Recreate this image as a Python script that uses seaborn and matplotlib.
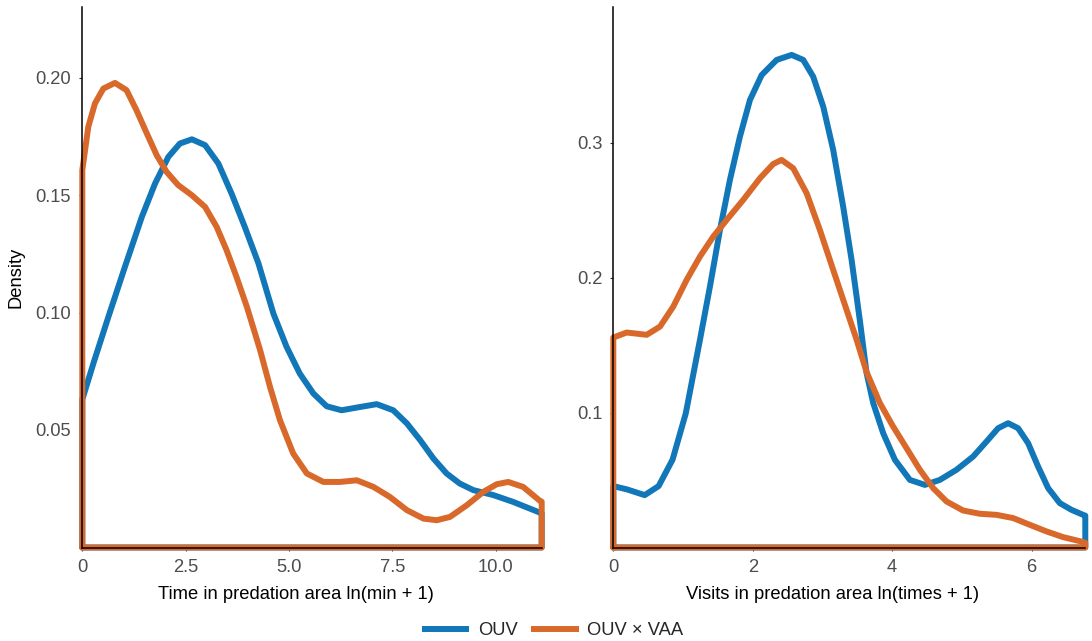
import matplotlib
matplotlib.use("Agg")
import matplotlib.pyplot as plt
import seaborn as sns
import pandas as pd

sns.set_theme(style="white")
plt.rcParams['font.family'] = ['Liberation Sans', 'DejaVu Sans']

groups = ["OUV", "OUV × VAA"]
colors = {"OUV": "#1177B8", "OUV × VAA": "#D8692A"}

# ---- Panel 1: time in predation area (outline of density polygon) ----
time_ouv_x = [0, 0, 0.28, 0.63, 1.03, 1.44, 1.76, 2.08, 2.36, 2.65, 2.97, 3.29, 3.61,
              3.93, 4.26, 4.62, 4.94, 5.26, 5.59, 5.91, 6.27, 6.72, 7.12, 7.52, 7.85,
              8.17, 8.49, 8.81, 9.13, 9.46, 9.94, 10.42, 11.03, 11.11, 11.11, 0]
time_ouv_y = [0, 0.063, 0.079, 0.0981, 0.1194, 0.1407, 0.1549, 0.1662, 0.1719, 0.1737,
              0.1712, 0.1634, 0.1506, 0.1364, 0.1209, 0.0996, 0.0854, 0.074, 0.0655,
              0.0601, 0.0584, 0.0598, 0.061, 0.0584, 0.0528, 0.0457, 0.0379, 0.0315,
              0.0272, 0.0244, 0.0223, 0.0194, 0.0151, 0.0146, 0, 0]
time_vaa_x = [0, 0, 0.145, 0.307, 0.51, 0.79, 1.07, 1.31, 1.56, 1.80, 2.04, 2.32, 2.65,
              2.97, 3.25, 3.49, 3.73, 3.98, 4.30, 4.54, 4.78, 5.10, 5.43, 5.83, 6.23,
              6.64, 7.04, 7.44, 7.85, 8.25, 8.57, 8.89, 9.30, 9.70, 10.02, 10.30,
              10.66, 11.05, 11.11, 11.11, 0]
time_vaa_y = [0, 0.1606, 0.179, 0.189, 0.1953, 0.1977, 0.1946, 0.1861, 0.1762, 0.1669,
              0.1598, 0.1542, 0.1499, 0.1449, 0.1364, 0.1265, 0.1151, 0.1024, 0.084,
              0.0683, 0.0542, 0.040, 0.0315, 0.0279, 0.0279, 0.0286, 0.0258, 0.0215,
              0.0159, 0.0123, 0.0116, 0.013, 0.018, 0.0237, 0.0269, 0.0279, 0.0258,
              0.0201, 0.0195, 0, 0]

# ---- Panel 2: visits in predation area ----
vis_ouv_x = [0, 0, 0.20, 0.45, 0.65, 0.85, 1.04, 1.243, 1.386, 1.53, 1.673, 1.816,
             1.96, 2.128, 2.343, 2.558, 2.724, 2.867, 3.011, 3.154, 3.297, 3.418,
             3.537, 3.633, 3.728, 3.871, 4.039, 4.254, 4.469, 4.684, 4.923, 5.161,
             5.353, 5.52, 5.663, 5.806, 5.95, 6.093, 6.237, 6.404, 6.572, 6.738, 6.77,
             6.77, 0]
vis_ouv_y = [0, 0.0455, 0.043, 0.0388, 0.0455, 0.0651, 0.0995, 0.1539, 0.1933, 0.2353,
             0.2724, 0.3044, 0.3316, 0.3501, 0.3613, 0.365, 0.3613, 0.3489, 0.3267,
             0.2946, 0.2526, 0.2131, 0.168, 0.1292, 0.107, 0.0847, 0.065, 0.0501,
             0.0464, 0.0501, 0.0576, 0.0674, 0.0785, 0.0884, 0.0921, 0.0884, 0.0773,
             0.060, 0.044, 0.0329, 0.0279, 0.0242, 0.0236, 0, 0]
vis_vaa_x = [0, 0, 0.192, 0.479, 0.67, 0.86, 1.052, 1.243, 1.434, 1.626, 1.864, 2.103,
             2.294, 2.414, 2.581, 2.773, 2.963, 3.154, 3.346, 3.49, 3.633, 3.824,
             4.014, 4.206, 4.397, 4.588, 4.78, 5.018, 5.257, 5.497, 5.735, 5.974,
             6.214, 6.451, 6.715, 6.77, 6.77, 0]
vis_vaa_y = [0, 0.1556, 0.1593, 0.1576, 0.1637, 0.1785, 0.1983, 0.2156, 0.2304, 0.2427,
             0.2576, 0.2736, 0.2842, 0.2872, 0.281, 0.2625, 0.2353, 0.2057, 0.1761,
             0.1539, 0.130, 0.107, 0.0896, 0.0736, 0.0576, 0.044, 0.0341, 0.0274,
             0.025, 0.0242, 0.0218, 0.0168, 0.0119, 0.0077, 0.0044, 0.0035, 0, 0]

x_ticks_1 = [0, 2.5, 5.0, 7.5, 10.0]
x_ticklabels_1 = ["0", "2.5", "5.0", "7.5", "10.0"]
y_ticks_1 = [0.05, 0.10, 0.15, 0.20]
y_ticklabels_1 = ["0.05", "0.10", "0.15", "0.20"]
x_ticks_2 = [0, 2, 4, 6]
x_ticklabels_2 = ["0", "2", "4", "6"]
y_ticks_2 = [0.1, 0.2, 0.3]
y_ticklabels_2 = ["0.1", "0.2", "0.3"]


def make_df(xo, yo, xv, yv):
    d1 = pd.DataFrame({"x": xo, "y": yo, "group": groups[0]})
    d2 = pd.DataFrame({"x": xv, "y": yv, "group": groups[1]})
    return pd.concat([d1, d2], ignore_index=True)


df1 = make_df(time_ouv_x, time_ouv_y, time_vaa_x, time_vaa_y)
df2 = make_df(vis_ouv_x, vis_ouv_y, vis_vaa_x, vis_vaa_y)

fig = plt.figure(figsize=(10.92, 6.41), dpi=100)
W, H = 1092, 641
ax1 = fig.add_axes([82.3 / W, (H - 547.5) / H, 459.4 / W, 540.5 / H])
ax2 = fig.add_axes([613.3 / W, (H - 547.5) / H, 472.0 / W, 540.5 / H])

tick_color = "#4D4D4D"
fs = 13.2

for ax, df, xmax, ymax, xt, xtl, yt, ytl, xlabel in [
    (ax1, df1, 11.11, 0.2300, x_ticks_1, x_ticklabels_1, y_ticks_1, y_ticklabels_1,
     "Time in predation area ln(min + 1)"),
    (ax2, df2, 6.77, 0.4005, x_ticks_2, x_ticklabels_2, y_ticks_2, y_ticklabels_2,
     "Visits in predation area ln(times + 1)"),
]:
    sns.lineplot(data=df, x="x", y="y", hue="group", hue_order=groups, palette=colors,
                 estimator=None, sort=False, linewidth=4.3, ax=ax,
                 legend=(ax is ax1))
    for ln in ax.get_lines():
        ln.set_clip_on(False)
        ln.set_solid_joinstyle("round")
        ln.set_solid_capstyle("round")
    ax.set_xlim(0, xmax)
    ax.set_ylim(0, ymax)
    ax.set_xticks(xt)
    ax.set_xticklabels(xtl)
    ax.set_yticks(yt)
    ax.set_yticklabels(ytl)
    for s in ["top", "right"]:
        ax.spines[s].set_visible(False)
    for s in ["left", "bottom"]:
        ax.spines[s].set_color("black")
        ax.spines[s].set_linewidth(1.1)
        ax.spines[s].set_zorder(5)
    ax.tick_params(axis="both", which="major", length=2.5, width=0.8, color="#333333",
                   labelsize=fs, labelcolor=tick_color, pad=5.5, bottom=True, left=True)
    ax.set_xlabel(xlabel, fontsize=fs, color="black")
    ax.xaxis.set_label_coords(0.464, -0.071)
    ax.set_ylabel("")
    ax.set_facecolor("white")
    ax.grid(False)

ax1.set_ylabel("Density", fontsize=fs, color="black")
ax1.yaxis.set_label_coords(-0.125, 0.5)

handles, labels = ax1.get_legend_handles_labels()
ax1.get_legend().remove()
leg = fig.legend(handles, labels, loc="center", bbox_to_anchor=(0.506, 0.016), ncol=2,
                 frameon=False, fontsize=fs, handlelength=2.6, handletextpad=0.45,
                 columnspacing=0.75)
for h in leg.get_lines():
    h.set_linewidth(4.3)
    h.set_solid_capstyle("butt")

fig.savefig("out.png", dpi=100, facecolor="white")
